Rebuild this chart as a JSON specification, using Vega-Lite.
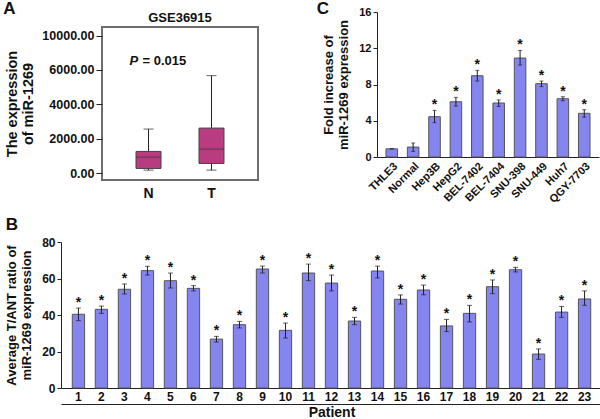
{
  "$schema": "https://vega.github.io/schema/vega-lite/v6.json",
  "padding": {"left": 3, "top": 0, "right": 0, "bottom": 0},
  "autosize": {"type": "pad"},
  "background": "white",
  "config": {
    "font": "Liberation Sans",
    "view": {"stroke": null},
    "axis": {
      "grid": false,
      "labelOverlap": false,
      "labelFont": "Liberation Sans",
      "titleFont": "Liberation Sans",
      "labelFontWeight": "bold",
      "titleFontWeight": "bold",
      "labelColor": "#111",
      "titleColor": "#111",
      "domainColor": "#222",
      "tickColor": "#222",
      "labelFontSize": 12,
      "titleFontSize": 13
    },
    "title": {"font": "Liberation Sans", "fontWeight": "bold", "color": "#111"}
  },
  "spacing": 11,
  "vconcat": [
    {
      "spacing": 57,
      "hconcat": [
        {
          "title": {"text": "A", "anchor": "start", "frame": "bounds", "fontSize": 17, "offset": -7},
          "hconcat": [
            {
              "width": 156,
              "height": 153,
              "view": {"stroke": "#6e6e6e", "strokeWidth": 2},
              "title": {"text": "GSE36915", "fontSize": 13, "offset": 2, "anchor": "middle"},
              "data": {"values": [
                {"group": "N", "lo": 175, "q1": 272, "med": 932, "q3": 1262, "hi": 2563},
                {"group": "T", "lo": 175, "q1": 563, "med": 1398, "q3": 2621, "hi": 5670}
              ]},
              "layer": [
                {
                  "mark": {"type": "rule", "color": "#222", "strokeWidth": 1},
                  "encoding": {
                    "x": {"field": "group", "type": "nominal", "scale": {"paddingInner": 0.603, "paddingOuter": 0.54},
                      "axis": {"title": null, "labelAngle": 0, "labelFontSize": 14, "ticks": false, "domain": false, "labelPadding": 6, "labelOverlap": false}},
                    "y": {"field": "lo", "type": "quantitative",
                      "scale": {"domain": [-400, 8500], "nice": false, "zero": false},
                      "axis": {"values": [0, 2000, 4000, 6000, 8000], "labelOverlap": false,
                        "labelExpr": "datum.value == 8000 ? '10000.00' : format(datum.value, '.2f')",
                        "domain": false, "tickSize": 6, "labelPadding": 2, "labelFontSize": 12.5,
                        "title": ["The expression", "of miR-1269"], "titleFontSize": 14.5, "titlePadding": 6}},
                    "y2": {"field": "hi"}
                  }
                },
                {
                  "mark": {"type": "tick", "color": "#222", "size": 10, "thickness": 1},
                  "encoding": {
                    "x": {"field": "group", "type": "nominal",
                      "axis": {"title": null, "labelAngle": 0, "labelFontSize": 14, "ticks": false, "domain": false, "labelPadding": 6, "labelOverlap": false}},
                    "y": {"field": "hi", "type": "quantitative",
                      "axis": {"values": [0, 2000, 4000, 6000, 8000], "labelOverlap": false,
                        "labelExpr": "datum.value == 8000 ? '10000.00' : format(datum.value, '.2f')",
                        "domain": false, "tickSize": 6, "labelPadding": 2, "labelFontSize": 12.5,
                        "title": ["The expression", "of miR-1269"], "titleFontSize": 14.5, "titlePadding": 6}}
                  }
                },
                {
                  "mark": {"type": "tick", "color": "#222", "size": 10, "thickness": 1},
                  "encoding": {
                    "x": {"field": "group", "type": "nominal",
                      "axis": {"title": null, "labelAngle": 0, "labelFontSize": 14, "ticks": false, "domain": false, "labelPadding": 6, "labelOverlap": false}},
                    "y": {"field": "lo", "type": "quantitative",
                      "axis": {"values": [0, 2000, 4000, 6000, 8000], "labelOverlap": false,
                        "labelExpr": "datum.value == 8000 ? '10000.00' : format(datum.value, '.2f')",
                        "domain": false, "tickSize": 6, "labelPadding": 2, "labelFontSize": 12.5,
                        "title": ["The expression", "of miR-1269"], "titleFontSize": 14.5, "titlePadding": 6}}
                  }
                },
                {
                  "mark": {"type": "bar", "size": 25, "fill": "#BA3C80", "stroke": "#444", "strokeWidth": 1},
                  "encoding": {
                    "x": {"field": "group", "type": "nominal",
                      "axis": {"title": null, "labelAngle": 0, "labelFontSize": 14, "ticks": false, "domain": false, "labelPadding": 6, "labelOverlap": false}},
                    "y": {"field": "q1", "type": "quantitative",
                      "axis": {"values": [0, 2000, 4000, 6000, 8000], "labelOverlap": false,
                        "labelExpr": "datum.value == 8000 ? '10000.00' : format(datum.value, '.2f')",
                        "domain": false, "tickSize": 6, "labelPadding": 2, "labelFontSize": 12.5,
                        "title": ["The expression", "of miR-1269"], "titleFontSize": 14.5, "titlePadding": 6}},
                    "y2": {"field": "q3"}
                  }
                },
                {
                  "mark": {"type": "tick", "color": "#333", "size": 25, "thickness": 1},
                  "encoding": {
                    "x": {"field": "group", "type": "nominal",
                      "axis": {"title": null, "labelAngle": 0, "labelFontSize": 14, "ticks": false, "domain": false, "labelPadding": 6, "labelOverlap": false}},
                    "y": {"field": "med", "type": "quantitative",
                      "axis": {"values": [0, 2000, 4000, 6000, 8000], "labelOverlap": false,
                        "labelExpr": "datum.value == 8000 ? '10000.00' : format(datum.value, '.2f')",
                        "domain": false, "tickSize": 6, "labelPadding": 2, "labelFontSize": 12.5,
                        "title": ["The expression", "of miR-1269"], "titleFontSize": 14.5, "titlePadding": 6}}
                  }
                },
                {
                  "data": {"values": [{"group": "N", "v": 6500, "label": "P"}]},
                  "mark": {"type": "text", "fontStyle": "italic", "fontWeight": "bold", "fontSize": 13, "align": "left", "baseline": "middle", "dx": -19, "color": "#111"},
                  "encoding": {
                    "x": {"field": "group", "type": "nominal",
                      "axis": {"title": null, "labelAngle": 0, "labelFontSize": 14, "ticks": false, "domain": false, "labelPadding": 6, "labelOverlap": false}},
                    "y": {"field": "v", "type": "quantitative",
                      "axis": {"values": [0, 2000, 4000, 6000, 8000], "labelOverlap": false,
                        "labelExpr": "datum.value == 8000 ? '10000.00' : format(datum.value, '.2f')",
                        "domain": false, "tickSize": 6, "labelPadding": 2, "labelFontSize": 12.5,
                        "title": ["The expression", "of miR-1269"], "titleFontSize": 14.5, "titlePadding": 6}},
                    "text": {"field": "label"}
                  }
                },
                {
                  "data": {"values": [{"group": "N", "v": 6500, "label": "= 0.015"}]},
                  "mark": {"type": "text", "fontWeight": "bold", "fontSize": 13, "align": "left", "baseline": "middle", "dx": -6, "color": "#111"},
                  "encoding": {
                    "x": {"field": "group", "type": "nominal",
                      "axis": {"title": null, "labelAngle": 0, "labelFontSize": 14, "ticks": false, "domain": false, "labelPadding": 6, "labelOverlap": false}},
                    "y": {"field": "v", "type": "quantitative",
                      "axis": {"values": [0, 2000, 4000, 6000, 8000], "labelOverlap": false,
                        "labelExpr": "datum.value == 8000 ? '10000.00' : format(datum.value, '.2f')",
                        "domain": false, "tickSize": 6, "labelPadding": 2, "labelFontSize": 12.5,
                        "title": ["The expression", "of miR-1269"], "titleFontSize": 14.5, "titlePadding": 6}},
                    "text": {"field": "label"}
                  }
                }
              ]
            }
          ]
        },
        {
          "width": 222,
          "height": 130,
          "title": {"text": "C", "anchor": "start", "frame": "bounds", "fontSize": 17, "offset": -12, "dx": -6},
          "data": {"values": [
            {"cell": "THLE3", "mean": 0.9, "lo": 0.9, "hi": 0.9, "sig": ""},
            {"cell": "Normal", "mean": 1.1, "lo": 0.62, "hi": 1.55, "sig": ""},
            {"cell": "Hep3B", "mean": 4.45, "lo": 3.79, "hi": 5.15, "sig": "*"},
            {"cell": "HepG2", "mean": 6.1, "lo": 5.62, "hi": 6.58, "sig": "*"},
            {"cell": "BEL-7402", "mean": 8.97, "lo": 8.38, "hi": 9.56, "sig": "*"},
            {"cell": "BEL-7404", "mean": 5.96, "lo": 5.58, "hi": 6.3, "sig": "*"},
            {"cell": "SNU-398", "mean": 10.92, "lo": 10.15, "hi": 11.76, "sig": "*"},
            {"cell": "SNU-449", "mean": 8.09, "lo": 7.77, "hi": 8.38, "sig": "*"},
            {"cell": "Huh7", "mean": 6.43, "lo": 6.21, "hi": 6.65, "sig": "*"},
            {"cell": "QGY-7703", "mean": 4.82, "lo": 4.4, "hi": 5.22, "sig": "*"}
          ]},
          "layer": [
            {
              "mark": {"type": "bar", "fill": "#8585F0", "stroke": "#555", "strokeWidth": 1},
              "encoding": {
                "x": {"field": "cell", "type": "nominal", "sort": null,
                  "scale": {"paddingInner": 0.46, "paddingOuter": 0.42},
                  "axis": {"title": null, "labelAngle": -45, "labelFontSize": 11, "ticks": false, "labelPadding": 3, "labelOverlap": false}},
                "y": {"field": "mean", "type": "quantitative",
                  "scale": {"domain": [0, 16], "nice": false, "range": [130, -15]},
                  "axis": {"values": [0, 4, 8, 12, 16], "tickSize": 4, "labelPadding": 2, "labelFontSize": 11, "labelOverlap": false,
                    "title": ["Fold increase of", "miR-1269 expression"], "titleFontSize": 13, "titlePadding": 8}}
              }
            },
            {
              "mark": {"type": "rule", "color": "#222", "strokeWidth": 1},
              "encoding": {
                "x": {"field": "cell", "type": "nominal", "sort": null,
                  "axis": {"title": null, "labelAngle": -45, "labelFontSize": 11, "ticks": false, "labelPadding": 3, "labelOverlap": false}},
                "y": {"field": "lo", "type": "quantitative",
                  "axis": {"values": [0, 4, 8, 12, 16], "tickSize": 4, "labelPadding": 2, "labelFontSize": 11, "labelOverlap": false,
                    "title": ["Fold increase of", "miR-1269 expression"], "titleFontSize": 13, "titlePadding": 8}},
                "y2": {"field": "hi"}
              }
            },
            {
              "mark": {"type": "tick", "color": "#222", "size": 4, "thickness": 1},
              "encoding": {
                "x": {"field": "cell", "type": "nominal", "sort": null,
                  "axis": {"title": null, "labelAngle": -45, "labelFontSize": 11, "ticks": false, "labelPadding": 3, "labelOverlap": false}},
                "y": {"field": "lo", "type": "quantitative",
                  "axis": {"values": [0, 4, 8, 12, 16], "tickSize": 4, "labelPadding": 2, "labelFontSize": 11, "labelOverlap": false,
                    "title": ["Fold increase of", "miR-1269 expression"], "titleFontSize": 13, "titlePadding": 8}}
              }
            },
            {
              "mark": {"type": "tick", "color": "#222", "size": 4, "thickness": 1},
              "encoding": {
                "x": {"field": "cell", "type": "nominal", "sort": null,
                  "axis": {"title": null, "labelAngle": -45, "labelFontSize": 11, "ticks": false, "labelPadding": 3, "labelOverlap": false}},
                "y": {"field": "hi", "type": "quantitative",
                  "axis": {"values": [0, 4, 8, 12, 16], "tickSize": 4, "labelPadding": 2, "labelFontSize": 11, "labelOverlap": false,
                    "title": ["Fold increase of", "miR-1269 expression"], "titleFontSize": 13, "titlePadding": 8}}
              }
            },
            {
              "mark": {"type": "text", "fontSize": 14, "fontWeight": "bold", "baseline": "alphabetic", "dy": -1, "color": "#111"},
              "encoding": {
                "x": {"field": "cell", "type": "nominal", "sort": null,
                  "axis": {"title": null, "labelAngle": -45, "labelFontSize": 11, "ticks": false, "labelPadding": 3, "labelOverlap": false}},
                "y": {"field": "hi", "type": "quantitative",
                  "axis": {"values": [0, 4, 8, 12, 16], "tickSize": 4, "labelPadding": 2, "labelFontSize": 11, "labelOverlap": false,
                    "title": ["Fold increase of", "miR-1269 expression"], "titleFontSize": 13, "titlePadding": 8}},
                "text": {"field": "sig"}
              }
            }
          ]
        }
      ]
    },
    {
      "width": 500,
      "height": 146,
      "title": {"text": "B", "anchor": "start", "frame": "bounds", "fontSize": 17, "offset": 2},
      "data": {"values": [
        {"patient": "1", "mean": 40.4, "lo": 36.9, "hi": 43.8},
        {"patient": "2", "mean": 43.1, "lo": 40.9, "hi": 44.9},
        {"patient": "3", "mean": 54.1, "lo": 51.5, "hi": 57.0},
        {"patient": "4", "mean": 64.3, "lo": 61.9, "hi": 66.7},
        {"patient": "5", "mean": 58.8, "lo": 54.8, "hi": 63.0},
        {"patient": "6", "mean": 54.6, "lo": 53.2, "hi": 56.1},
        {"patient": "7", "mean": 26.8, "lo": 25.2, "hi": 28.3},
        {"patient": "8", "mean": 34.7, "lo": 32.9, "hi": 36.5},
        {"patient": "9", "mean": 65.2, "lo": 63.0, "hi": 66.8},
        {"patient": "10", "mean": 31.6, "lo": 27.4, "hi": 35.6},
        {"patient": "11", "mean": 63.0, "lo": 58.8, "hi": 67.9},
        {"patient": "12", "mean": 57.5, "lo": 53.2, "hi": 61.9},
        {"patient": "13", "mean": 36.7, "lo": 34.7, "hi": 38.7},
        {"patient": "14", "mean": 64.1, "lo": 60.3, "hi": 66.8},
        {"patient": "15", "mean": 48.6, "lo": 46.0, "hi": 51.0},
        {"patient": "16", "mean": 53.7, "lo": 51.1, "hi": 56.4},
        {"patient": "17", "mean": 34.0, "lo": 30.9, "hi": 37.6},
        {"patient": "18", "mean": 40.9, "lo": 36.2, "hi": 45.3},
        {"patient": "19", "mean": 55.5, "lo": 51.7, "hi": 59.2},
        {"patient": "20", "mean": 64.8, "lo": 63.6, "hi": 66.1},
        {"patient": "21", "mean": 18.6, "lo": 15.7, "hi": 21.4},
        {"patient": "22", "mean": 41.6, "lo": 38.7, "hi": 44.7},
        {"patient": "23", "mean": 48.8, "lo": 45.3, "hi": 53.2}
      ]},
      "resolve": {"axis": {"x": "independent"}},
      "layer": [
        {
          "mark": {"type": "bar", "fill": "#8585F0", "stroke": "#555", "strokeWidth": 1},
          "encoding": {
            "x": {"field": "patient", "type": "nominal", "sort": null,
              "scale": {"paddingInner": 0.465, "paddingOuter": 0.49, "range": [-41, 500]},
              "axis": {"title": null, "labelAngle": 0, "labelFontSize": 12, "ticks": false, "tickSize": 0, "labelPadding": 3, "labelOverlap": false}},
            "y": {"field": "mean", "type": "quantitative",
              "scale": {"domain": [0, 80], "nice": false},
              "axis": {"values": [0, 20, 40, 60, 80], "offset": 41, "tickSize": 4, "labelPadding": 2, "labelFontSize": 12, "labelOverlap": false,
                "title": ["Average T/ANT ratio of", "miR-1269 expression"], "titleFontSize": 13, "titlePadding": 8}}
          }
        },
        {
          "mark": {"type": "rule", "color": "#222", "strokeWidth": 1},
          "encoding": {
            "x": {"field": "patient", "type": "nominal", "sort": null,
              "axis": {"orient": "bottom", "offset": 16, "labels": false, "ticks": false, "tickSize": 0, "domain": true,
                "title": "Patient", "titleFontSize": 14, "titlePadding": 1}},
            "y": {"field": "lo", "type": "quantitative",
              "axis": {"values": [0, 20, 40, 60, 80], "offset": 41, "tickSize": 4, "labelPadding": 2, "labelFontSize": 12, "labelOverlap": false,
                "title": ["Average T/ANT ratio of", "miR-1269 expression"], "titleFontSize": 13, "titlePadding": 8}},
            "y2": {"field": "hi"}
          }
        },
        {
          "mark": {"type": "tick", "color": "#222", "size": 5, "thickness": 1},
          "encoding": {
            "x": {"field": "patient", "type": "nominal", "sort": null, "axis": null},
            "y": {"field": "lo", "type": "quantitative",
              "axis": {"values": [0, 20, 40, 60, 80], "offset": 41, "tickSize": 4, "labelPadding": 2, "labelFontSize": 12, "labelOverlap": false,
                "title": ["Average T/ANT ratio of", "miR-1269 expression"], "titleFontSize": 13, "titlePadding": 8}}
          }
        },
        {
          "mark": {"type": "tick", "color": "#222", "size": 5, "thickness": 1},
          "encoding": {
            "x": {"field": "patient", "type": "nominal", "sort": null, "axis": null},
            "y": {"field": "hi", "type": "quantitative",
              "axis": {"values": [0, 20, 40, 60, 80], "offset": 41, "tickSize": 4, "labelPadding": 2, "labelFontSize": 12, "labelOverlap": false,
                "title": ["Average T/ANT ratio of", "miR-1269 expression"], "titleFontSize": 13, "titlePadding": 8}}
          }
        },
        {
          "mark": {"type": "text", "fontSize": 14, "fontWeight": "bold", "baseline": "alphabetic", "dy": -1, "color": "#111"},
          "encoding": {
            "x": {"field": "patient", "type": "nominal", "sort": null, "axis": null},
            "y": {"field": "hi", "type": "quantitative",
              "axis": {"values": [0, 20, 40, 60, 80], "offset": 41, "tickSize": 4, "labelPadding": 2, "labelFontSize": 12, "labelOverlap": false,
                "title": ["Average T/ANT ratio of", "miR-1269 expression"], "titleFontSize": 13, "titlePadding": 8}},
            "text": {"value": "*"}
          }
        }
      ]
    }
  ]
}
